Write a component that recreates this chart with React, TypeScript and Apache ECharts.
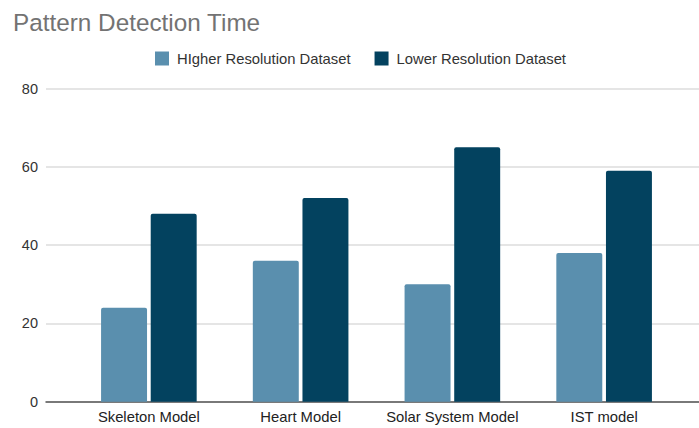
import React, { useEffect, useRef } from "react";
import * as echarts from "echarts";

const categories = ["Skeleton Model", "Heart Model", "Solar System Model", "IST model"];
const higherRes = [24, 36, 30, 38];
const lowerRes = [48, 52, 65, 59];
const seriesNames = ["HIgher Resolution Dataset", "Lower Resolution Dataset"];
const yTicks = { min: 0, max: 80, interval: 20 };

const FONT = "'Liberation Sans', Arial, sans-serif";

export default function App() {
  const ref = useRef<HTMLDivElement>(null);
  useEffect(() => {
    if (!ref.current) return;
    const chart = echarts.init(ref.current, undefined, { renderer: "svg" });
    chart.setOption({
      animation: false,
      backgroundColor: "#ffffff",
      textStyle: { fontFamily: FONT },
      title: {
        text: "Pattern Detection Time",
        left: 8,
        top: 5,
        textStyle: { fontFamily: FONT, fontSize: 24.3, fontWeight: "normal", color: "#737373" },
      },
      legend: {
        top: 46,
        left: 150,
        itemWidth: 14,
        itemHeight: 14,
        itemGap: 24,
        icon: "rect",
        textStyle: { fontFamily: FONT, fontSize: 14.8, color: "#333333", padding: [0, 0, 0, 3] },
        data: seriesNames,
      },
      grid: [
        { left: 46, right: 0, top: 88.5, bottom: 26.3 },
        { left: 73, right: 19, top: 88.5, bottom: 26.3 },
      ],
      xAxis: [
        {
          type: "category",
          gridIndex: 0,
          data: categories,
          axisLine: { show: true, lineStyle: { color: "#555555", width: 1.5 } },
          axisTick: { show: false },
          axisLabel: { show: false },
        },
        {
          type: "category",
          gridIndex: 1,
          data: categories,
          axisLine: { show: false },
          axisTick: { show: false },
          axisLabel: { interval: 0, fontFamily: FONT, fontSize: 14.8, color: "#222222", margin: 8 },
        },
      ],
      yAxis: [
        {
          type: "value",
          gridIndex: 0,
          min: yTicks.min,
          max: yTicks.max,
          interval: yTicks.interval,
          axisLine: { show: false },
          axisTick: { show: false },
          axisLabel: { fontFamily: FONT, fontSize: 14.5, color: "#333333", margin: 8 },
          splitLine: { lineStyle: { color: "#dcdcdc", width: 1.5 } },
        },
        {
          type: "value",
          gridIndex: 1,
          min: yTicks.min,
          max: yTicks.max,
          interval: yTicks.interval,
          show: false,
          splitLine: { show: false },
        },
      ],
      series: [
        {
          name: seriesNames[0],
          type: "bar",
          xAxisIndex: 1,
          yAxisIndex: 1,
          data: higherRes,
          barGap: "8%",
          barCategoryGap: "37%",
          itemStyle: { color: "#5a8fae", borderRadius: [2, 2, 0, 0] },
        },
        {
          name: seriesNames[1],
          type: "bar",
          xAxisIndex: 1,
          yAxisIndex: 1,
          data: lowerRes,
          barGap: "8%",
          barCategoryGap: "37%",
          itemStyle: { color: "#03425f", borderRadius: [2, 2, 0, 0] },
        },
      ],
    });
    return () => chart.dispose();
  }, []);
  return <div ref={ref} style={{ width: 699, height: 428, position: "absolute", left: 0, top: 0 }} />;
}
